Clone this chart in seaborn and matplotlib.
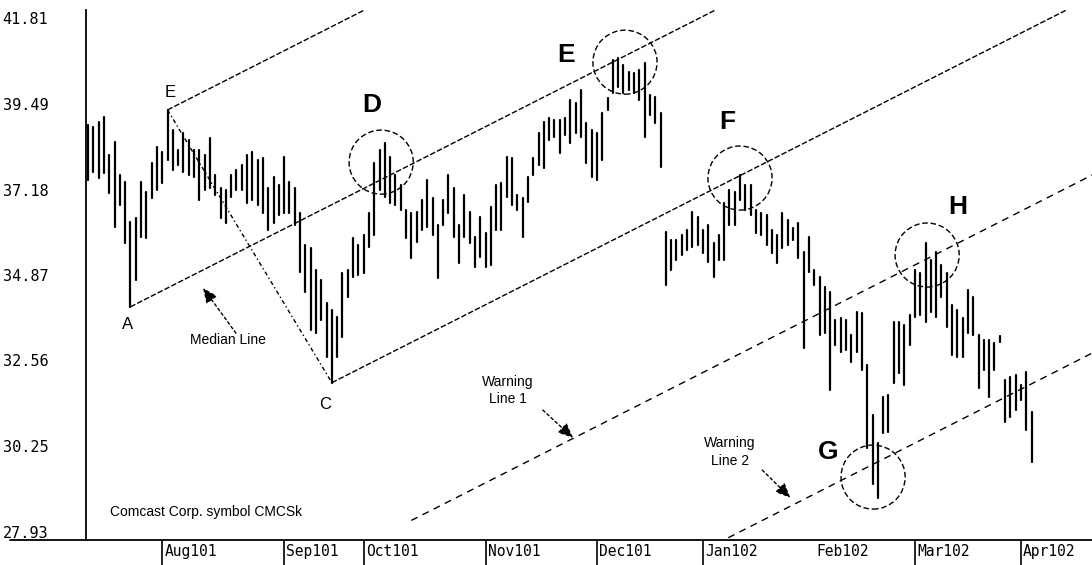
import numpy as np
import pandas as pd
import matplotlib
matplotlib.use("Agg")
import matplotlib.pyplot as plt
import matplotlib.transforms as mtransforms
from matplotlib.patches import Ellipse
import seaborn as sns

# daily bars, Jul 2001 - Apr 2002 (one entry per trading day)
high = [
    38.93, 38.87, 39.01, 39.14, 38.12, 38.47, 37.58, 37.39, 36.31, 36.41,
    37.39, 37.12, 37.90, 38.33, 38.20, 39.33, 38.79, 38.25, 38.71, 38.52,
    38.25, 38.25, 38.12, 38.57, 37.58, 37.22, 37.17, 37.58, 37.71, 37.85,
    38.12, 38.20, 37.98, 38.03, 37.22, 37.52, 37.30, 38.06, 37.39, 37.22,
    36.55, 35.69, 35.60, 35.01, 34.74, 34.12, 33.93, 33.74, 34.93, 35.01,
    35.87, 35.69, 35.96, 36.55, 37.90, 38.25, 38.44, 38.06, 37.58, 37.30,
    36.63, 36.55, 36.58, 36.90, 37.44, 36.95, 36.23, 36.90, 37.58, 37.22,
    36.23, 37.03, 36.58, 35.90, 36.44, 36.01, 36.71, 37.30, 37.36, 38.06,
    38.03, 37.03, 36.95, 37.52, 38.03, 38.71, 39.01, 39.11, 39.06, 39.06,
    39.11, 39.60, 39.52, 39.87, 38.98, 38.79, 38.71, 39.25, 39.65, 40.68,
    40.73, 40.55, 40.36, 40.33, 40.41, 40.60, 39.74, 39.68, 39.25,
    36.04, 35.82, 35.82, 35.96, 36.09, 36.58, 36.44, 36.09, 36.23, 35.74, 35.96,
    36.82, 37.17, 37.12, 37.58, 37.30, 37.30, 36.63, 36.55, 36.50, 36.09,
    35.96, 36.55, 36.36, 36.14, 36.28, 35.50, 35.90, 35.01, 34.82, 34.55,
    34.42, 33.66, 33.71, 33.66, 33.26, 33.88, 33.85, 32.45, 31.10, 30.34,
    31.58, 31.64, 33.61, 33.61, 33.53, 33.80, 35.01, 34.93, 35.74, 35.28,
    35.50, 35.15, 34.93, 34.07, 33.93, 33.71, 34.47, 34.28, 33.26, 33.12,
    33.12, 33.04, 33.23, 32.04, 32.12, 32.18, 31.90, 32.26, 31.18,
]
low = [
    37.44, 37.66, 37.49, 37.63, 37.09, 36.17, 36.77, 35.74, 34.01, 34.74,
    35.90, 35.87, 36.95, 37.17, 37.36, 37.98, 37.71, 37.85, 37.66, 37.58,
    37.52, 36.90, 37.17, 37.22, 37.03, 36.41, 36.28, 36.98, 37.17, 37.17,
    36.82, 36.90, 36.77, 36.55, 36.09, 36.28, 36.50, 36.55, 36.55, 36.23,
    34.96, 34.42, 33.39, 33.31, 33.66, 32.66, 31.96, 32.66, 33.20, 34.28,
    34.82, 34.88, 34.93, 35.63, 35.96, 37.17, 36.98, 36.82, 36.77, 36.63,
    35.87, 35.33, 35.77, 36.09, 36.17, 35.96, 34.79, 36.23, 36.55, 35.90,
    35.20, 35.90, 35.74, 35.09, 35.36, 35.09, 35.15, 36.09, 36.09, 36.98,
    36.77, 36.63, 35.90, 36.85, 37.58, 37.85, 37.76, 38.52, 38.60, 38.17,
    38.66, 38.44, 38.71, 38.60, 37.90, 37.52, 37.44, 37.98, 39.33, 39.79,
    39.95, 39.79, 39.87, 39.79, 39.60, 38.60, 39.20, 38.98, 37.79,
    34.60, 35.01, 35.28, 35.42, 35.55, 35.63, 35.69, 35.47, 35.23, 34.82, 35.28,
    35.28, 36.23, 36.23, 36.90, 36.63, 36.50, 36.01, 35.96, 35.69, 35.47,
    35.20, 35.60, 35.69, 35.82, 35.33, 32.90, 34.96, 34.60, 33.26, 33.31,
    31.77, 32.99, 32.80, 32.85, 32.53, 32.80, 32.31, 30.20, 29.21, 28.85,
    30.61, 30.64, 31.96, 32.23, 31.91, 32.99, 33.74, 33.80, 33.61, 33.88,
    33.74, 34.28, 33.47, 32.72, 32.66, 32.66, 33.31, 33.26, 31.82, 32.31,
    31.58, 32.31, 33.07, 30.91, 31.04, 31.23, 31.50, 30.69, 29.83,
]

month_labels = ["Aug101", "Sep101", "Oct101", "Nov101", "Dec101",
                "Jan102", "Feb102", "Mar102", "Apr102"]
month_start = [14, 37, 52, 75, 96, 116, 137, 156, 176]
price_ticks = [41.81, 39.49, 37.18, 34.87, 32.56, 30.25, 27.93]

# pitchfork pivots (bar index of A low, E high, C low)
pivot_a, pivot_e, pivot_c = 8, 15, 46

sns.set_style("white")
plt.rcParams['font.family'] = ['Liberation Sans', 'DejaVu Sans']
plt.rcParams['text.color'] = 'black'
plt.rcParams['xtick.color'] = 'black'
plt.rcParams['ytick.color'] = 'black'

days = np.arange(len(high))
bars = pd.DataFrame({
    "day": np.repeat(days, 2),
    "price": np.ravel(np.column_stack([low, high])),
    "bar": np.repeat(days, 2),
})

fig = plt.figure(figsize=(10.92, 5.65), dpi=100)
ax = fig.add_axes([86 / 1092, 25 / 565, 1 - 86 / 1092, 530 / 565])

sns.lineplot(data=bars, x="day", y="price", units="bar", estimator=None,
             color="black", linewidth=1.6, ax=ax, legend=False)

# Andrews pitchfork
xa, ya = pivot_a, low[pivot_a]
xe, ye = pivot_e, high[pivot_e]
xc, yc = pivot_c, low[pivot_c]
xm, ym = (xe + xc) / 2, (ye + yc) / 2
slope = (ym - ya) / (xm - xa)
median = lambda x: ya + slope * (x - xa)
width = median(xc) - yc

x_end = 200
dash = (0, (4, 1.5))
ax.plot([xa, x_end], [ya, median(x_end)], color="black", lw=1, ls=dash)
ax.plot([xe, x_end], [ye, ye + slope * (x_end - xe)], color="black", lw=1, ls=dash)
ax.plot([xc, x_end], [yc, yc + slope * (x_end - xc)], color="black", lw=1, ls=dash)
ax.plot([xe, xc], [ye, yc], color="black", lw=1, ls=(0, (3, 2, 1, 2)))
# warning lines
ax.plot([61, x_end], [median(61) - 2 * width, median(x_end) - 2 * width],
        color="black", lw=1, ls=(0, (5, 4)))
ax.plot([100, x_end], [median(100) - 3 * width, median(x_end) - 3 * width],
        color="black", lw=1, ls=(0, (5, 4)))

# circles round the test points D, E, F, G, H
for cx, cy in [(55.3, 37.92), (101.3, 40.62), (123.0, 37.49), (148.1, 29.41), (158.3, 35.41)]:
    ax.add_patch(Ellipse((cx, cy), 12.1, 1.73, fill=False, ec="black",
                         lw=1, ls=(0, (4, 2))))

small = dict(fontsize=12, ha="center", va="center")
big = dict(fontsize=19, fontweight="bold", ha="center", va="center")
ax.text(7.5, 33.52, "A", **small)
ax.text(15.5, 39.81, "E", **small)
ax.text(44.7, 31.36, "C", **small)
ax.text(53.6, 39.46, "D", **big)
ax.text(90.2, 40.81, "E", **big)
ax.text(120.6, 39.0, "F", **big)
ax.text(164.0, 36.71, "H", **big)
ax.text(139.6, 30.09, "G", **big)

arrow = dict(arrowstyle="-|>,head_length=0.9,head_width=0.4", color="black",
             lw=1, ls=(0, (2, 2)), shrinkA=0, shrinkB=0)
ax.text(26.4, 33.11, "Median Line", fontsize=10, ha="center", va="center")
ax.annotate("", xy=(21.7, 34.52), xytext=(27.9, 33.30), arrowprops=arrow)
ax.text(79.2, 31.74, "Warning\nLine 1", fontsize=10, ha="center", va="center",
        linespacing=1.3)
ax.annotate("", xy=(91.5, 30.47), xytext=(85.8, 31.22), arrowprops=arrow)
ax.text(121.1, 30.09, "Warning\nLine 2", fontsize=10, ha="center", va="center",
        linespacing=1.3)
ax.annotate("", xy=(132.5, 28.85), xytext=(127.2, 29.6), arrowprops=arrow)
ax.text(4.2, 28.47, "Comcast Corp. symbol CMCSk", fontsize=10, ha="left", va="center")

ax.set_xlim(-0.38, 189.4)
ax.set_ylim(27.71, 42.03)
ax.set_xlabel("")
ax.set_ylabel("")

# y labels sit at the far left edge of the figure
ax.set_yticks(price_ticks)
ax.set_yticklabels([f"{v:.2f}" for v in price_ticks], family="DejaVu Sans Mono",
                   fontsize=11)
ax.tick_params(axis="y", length=0, pad=60)
for lab in ax.get_yticklabels():
    lab.set_ha("left")

# month separators under the axis, label just right of each line
ax.set_xticks([m for m, lab in zip(month_start, month_labels) if lab != "Feb102"])
ax.set_xticklabels([])
ax.tick_params(axis="x", bottom=True, direction="out", length=18, width=1.2,
               color="black")
trans = mtransforms.blended_transform_factory(ax.transData, ax.transAxes)
for m, lab in zip(month_start, month_labels):
    ax.text(m + 0.4, -0.022, lab, transform=trans, ha="left", va="center",
            family="DejaVu Sans Mono", fontsize=10.5)

sns.despine(ax=ax, top=True, right=True)
for side in ["left", "bottom"]:
    ax.spines[side].set_color("black")
    ax.spines[side].set_linewidth(1.3)
# the base line also runs under the price labels
fig.add_artist(plt.Line2D([10 / 1092, 86 / 1092], [25 / 565, 25 / 565],
                          color="black", lw=1.3))

fig.savefig("out.png", dpi=100)
